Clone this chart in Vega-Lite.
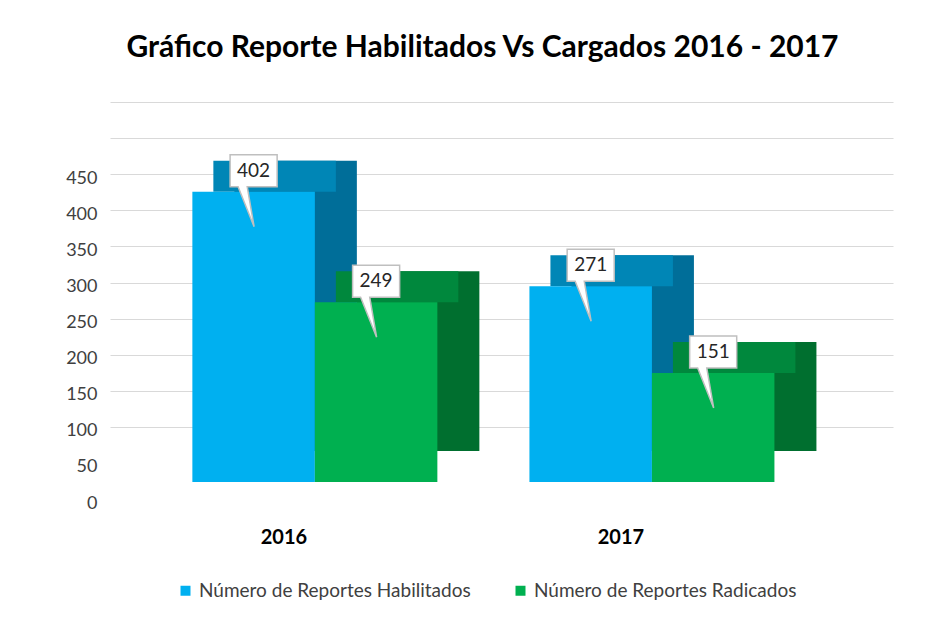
{
  "$schema": "https://vega.github.io/schema/vega-lite/v6.json",
  "width": 783,
  "height": 325,
  "autosize": "none",
  "padding": {"left": 110, "top": 157, "right": 57, "bottom": 139},
  "background": "white",
  "title": {
    "text": "Gráfico Reporte Habilitados Vs Cargados 2016 - 2017",
    "font": "Lato",
    "fontSize": 30,
    "fontWeight": "bold",
    "color": "#000000",
    "offset": 89,
    "dx": -19,
    "anchor": "middle"
  },
  "config": {
    "view": {"stroke": null}
  },
  "data": {
    "values": [
      {"year": "2016", "serie": "Número de Reportes Habilitados", "value": 402},
      {"year": "2016", "serie": "Número de Reportes Radicados", "value": 249},
      {"year": "2017", "serie": "Número de Reportes Habilitados", "value": 271},
      {"year": "2017", "serie": "Número de Reportes Radicados", "value": 151}
    ]
  },
  "encoding": {
    "x": {
      "field": "year",
      "type": "nominal",
      "scale": {"paddingInner": 0.273, "paddingOuter": 0.298, "align": 0.41},
      "axis": {
        "title": null,
        "labelAngle": 0,
        "domain": false,
        "ticks": false,
        "labelFont": "Lato",
        "labelFontSize": 20,
        "labelFontWeight": "bold",
        "labelColor": "#000000",
        "labelPadding": 45,
        "labelOffset": -31
      }
    },
    "y": {
      "field": "value",
      "type": "quantitative",
      "scale": {"domain": [0, 450], "nice": false},
      "axis": {
        "title": null,
        "values": [0, 50, 100, 150, 200, 250, 300, 350, 400, 450],
        "domain": false,
        "ticks": false,
        "grid": true,
        "gridColor": "#d9d9d9",
        "gridWidth": 1.2,
        "tickOffset": -55,
        "labelOffset": 76,
        "labelPadding": 13,
        "labelFont": "Lato",
        "labelFontSize": 18,
        "labelColor": "#404040"
      }
    }
  },
  "resolve": {"scale": {"xOffset": "independent"}},
  "layer": [
    {
      "mark": {"type": "bar", "yOffset": -31, "y2Offset": -31},
      "encoding": {
        "xOffset": {
          "field": "serie",
          "type": "nominal",
          "sort": ["Número de Reportes Habilitados", "Número de Reportes Radicados"],
          "scale": {"paddingInner": 0, "paddingOuter": 0, "range": [42, 287]}
        },
        "color": {
          "condition": {"test": "datum.serie === 'Número de Reportes Habilitados'", "value": "#006E99"},
          "value": "#006F2F"
        }
      }
    },
    {
      "mark": {"type": "bar", "yOffset": -31},
      "encoding": {
        "xOffset": {
          "field": "serie",
          "type": "nominal",
          "sort": ["Número de Reportes Habilitados", "Número de Reportes Radicados"],
          "scale": {"paddingInner": 0, "paddingOuter": 0, "range": [21, 266]}
        },
        "y2": {"field": "value"},
        "color": {
          "condition": {"test": "datum.serie === 'Número de Reportes Habilitados'", "value": "#0086B6"},
          "value": "#00883D"
        }
      }
    },
    {
      "mark": {"type": "bar"},
      "encoding": {
        "xOffset": {
          "field": "serie",
          "type": "nominal",
          "sort": ["Número de Reportes Habilitados", "Número de Reportes Radicados"],
          "scale": {"paddingInner": 0, "paddingOuter": 0, "range": [0, 245]}
        },
        "color": {
          "field": "serie",
          "type": "nominal",
          "sort": ["Número de Reportes Habilitados", "Número de Reportes Radicados"],
          "scale": {"range": ["#00B0F0", "#00B050"]},
          "legend": {
            "orient": "none",
            "legendX": 66,
            "legendY": 424,
            "direction": "horizontal",
            "title": null,
            "symbolType": "square",
            "symbolSize": 100,
            "symbolStrokeWidth": 0,
            "labelFont": "Lato",
            "labelFontSize": 19,
            "labelColor": "#404040",
            "labelLimit": 500,
            "columnPadding": 40
          }
        }
      }
    },
    {
      "mark": {
        "type": "point",
        "shape": "M-1.47,-1L1.47,-1L1.47,1L-0.4,1L0.03,3.5L-0.97,1L-1.47,1Z",
        "size": 1024,
        "filled": true,
        "fill": "#ffffff",
        "stroke": "#bfbfbf",
        "strokeWidth": 1.5,
        "opacity": 1,
        "yOffset": -21
      },
      "encoding": {
        "xOffset": {
          "field": "serie",
          "type": "nominal",
          "sort": ["Número de Reportes Habilitados", "Número de Reportes Radicados"],
          "scale": {"type": "point", "padding": 0, "range": [61.25, 183.75]}
        }
      }
    },
    {
      "mark": {
        "type": "text",
        "yOffset": -21,
        "baseline": "middle",
        "font": "Lato",
        "fontSize": 19,
        "color": "#262626"
      },
      "encoding": {
        "xOffset": {
          "field": "serie",
          "type": "nominal",
          "sort": ["Número de Reportes Habilitados", "Número de Reportes Radicados"],
          "scale": {"type": "point", "padding": 0, "range": [61.25, 183.75]}
        },
        "text": {"field": "value", "type": "quantitative"}
      }
    }
  ]
}
